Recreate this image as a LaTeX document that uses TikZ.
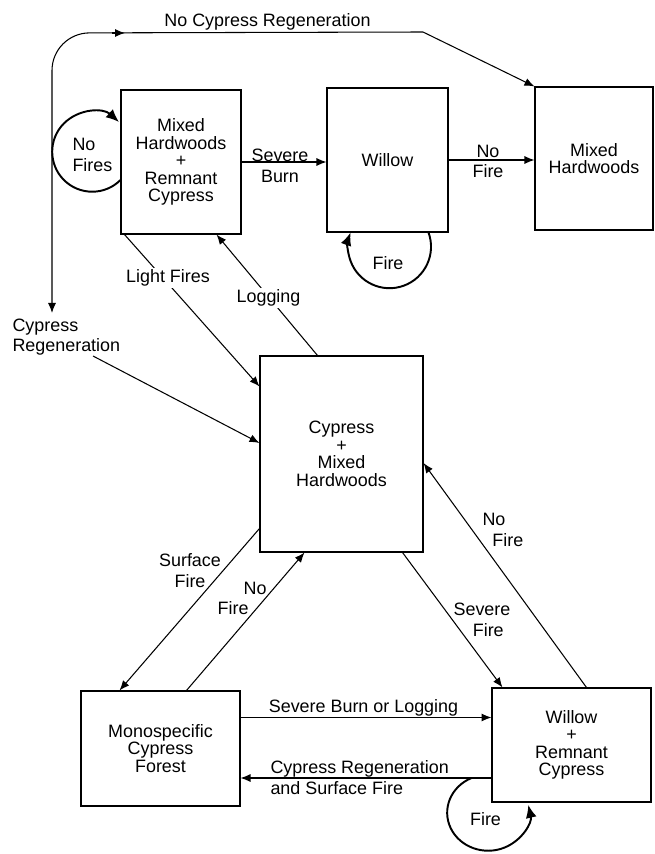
\documentclass[tikz,border=0pt]{standalone}
\usepackage{fontspec}
\setmainfont{Liberation Sans}
\usetikzlibrary{arrows.meta,calc}

\begin{document}
\begin{tikzpicture}[x=0.02cm, y=-0.02cm, line width=0.6pt,
    font=\fontsize{10.2}{10}\selectfont,
    state/.style={draw, align=center, inner sep=0pt},
    lbl/.style={align=center, inner sep=0pt, font=\fontsize{10.2}{11.8}\selectfont},
    arr/.style={-{Latex[length=2mm,width=1.6mm]}},
    loopy/.style={line width=1.1pt, -{Latex[length=2.6mm,width=2.2mm]}}]
  \useasboundingbox (0,0) rectangle (654,854);
  % states
  \node[state, minimum width=2.4cm, minimum height=2.88cm] (mhrc) at (181,162) {Mixed\\Hardwoods\\+\\Remnant\\Cypress};
  \node[state, minimum width=2.42cm, minimum height=2.88cm] (willow) at (387.5,160) {Willow};
  \node[state, minimum width=2.36cm, minimum height=2.86cm] (mixed) at (594,158.5) {Mixed\\Hardwoods};
  \node[state, minimum width=3.26cm, minimum height=3.92cm] (cmh) at (341.5,454) {Cypress\\+\\Mixed\\Hardwoods};
  \node[state, minimum width=3.18cm, minimum height=2.3cm] (mono) at (160.5,748.5) {Monospecific\\Cypress\\Forest};
  \node[state, minimum width=3.18cm, minimum height=2.28cm] (wrc) at (571.5,745) {Willow\\+\\Remnant\\Cypress};

  % top row
  \draw[arr] (mhrc.east) -- (mhrc.east -| willow.west);
  \node[lbl] (sburn) at (280,165.5) {Severe\\Burn};
  \draw[arr] (willow.east) -- (willow.east -| mixed.west);
  \node[lbl] (nofire1) at (488,161.5) {No\\Fire};
  \draw[loopy] ($(mhrc.west)+(0,18)$) arc[start angle=45, end angle=312, radius=40];
  \node[lbl, align=left, anchor=west] (nofires) at (72,155) {No\\Fires};
  \draw[loopy] ($(willow.south east)+(-20,0)$) arc[start angle=-20, end angle=200, radius=41.5];
  \node[anchor=base, inner sep=0pt] (fire1) at (388,270) {Fire};

  % no cypress regeneration
  \node[lbl, align=left, anchor=west] (cypreg) at (12,337) {Cypress\\Regeneration};
  \coordinate (nw) at (52,33);
  \coordinate (ne) at (423,32);
  \draw[arr, rounded corners=0.75cm] (ne) -- (nw) -- ($(cypreg.north west)+(40,-5)$);
  \draw[arr] ($(nw)+(60,0)$) -- ($(nw)+(73,0)$);
  \draw[arr] (ne) -- (mixed.north west);
  \node[anchor=base, inner sep=0pt] (nocr) at (267.5,27) {No Cypress Regeneration};
  \draw[arr] ($(cypreg.south west)+(81,0)$) -- ($(cmh.west)+(0,-11)$);

  % middle
  \draw[arr] ($(mhrc.south west)+(4,0)$) -- ($(cmh.north west)+(0,31)$);
  \node[anchor=base, fill=white, inner sep=1pt] (light) at (168,283) {Light Fires};
  \draw[arr] ($(cmh.north west)+(58,0)$) -- ($(mhrc.south west)+(96,0)$);
  \node[anchor=base, fill=white, inner sep=1pt] (logging) at (268.5,303) {Logging};

  % lower part
  \draw[arr] ($(cmh.south west)+(0,-24)$) -- ($(mono.north west)+(39,0)$);
  \node[lbl] (sfire) at (190,570.5) {Surface\\Fire};
  \draw[arr] ($(mono.north west)+(106,0)$) -- ($(cmh.south west)+(45,0)$);
  \node[lbl, align=right, anchor=east] (nofire2) at (267,598.5) {No\\Fire\hspace*{1em}};
  \draw[arr] ($(cmh.south east)+(-21,0)$) -- ($(wrc.north west)+(11,0)$);
  \node[lbl] (sevfire) at (482,620) {Severe\\\hspace*{0.7em}Fire};
  \draw[arr] ($(wrc.north west)+(95,0)$) -- ($(cmh.east)+(0,9)$);
  \node[lbl, align=left, anchor=west] (nofire3) at (482,530) {No\\\hspace*{0.55em}Fire};

  \coordinate (sb) at ($(mono.east)+(0,-31)$);
  \draw[arr] (sb) -- (sb -| wrc.west);
  \node[anchor=base, inner sep=0pt] (sbl) at (363.5,712) {Severe Burn or Logging};
  \coordinate (cr) at ($(wrc.west)+(0,33)$);
  \draw[arr] (cr) -- (cr -| mono.east);
  \node[lbl, align=left, anchor=west] (crsf) at (270,777.5) {Cypress Regeneration\\and Surface Fire};
  \draw[loopy] ($(wrc.west)+(-20,33)$) arc[start angle=246, end angle=-12, x radius=41, y radius=38];
  \node[anchor=base, inner sep=0pt] (fire2) at (485.5,825) {Fire};
\end{tikzpicture}
\end{document}
